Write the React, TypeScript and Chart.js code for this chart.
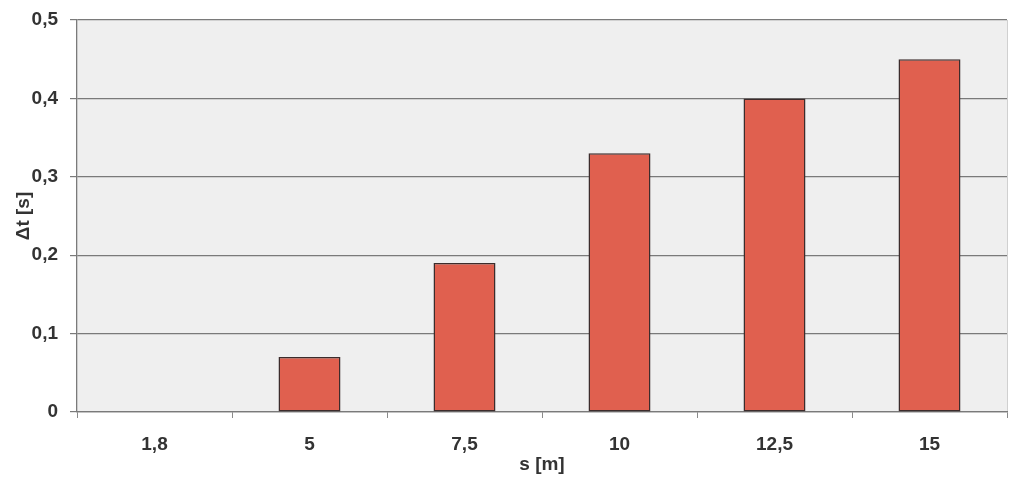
import { useEffect, useRef } from "react";
import { Chart, registerables } from "chart.js";

Chart.register(...registerables);

const distances = ["1,8", "5", "7,5", "10", "12,5", "15"];
const deltaT = [0, 0.07, 0.19, 0.33, 0.4, 0.45];
const yTicks = [0, 0.1, 0.2, 0.3, 0.4, 0.5];

const font = { family: "Liberation Sans, Arial", size: 19, weight: "bold" as const };

const plotBg = {
  id: "plotBg",
  beforeDraw(chart: Chart) {
    const { ctx, chartArea: a } = chart;
    ctx.save();
    ctx.fillStyle = "#efefef";
    ctx.fillRect(a.left, a.top, a.right - a.left, a.bottom - a.top);
    ctx.strokeStyle = "#d0d0d0";
    ctx.lineWidth = 1;
    ctx.beginPath();
    ctx.moveTo(a.right + 0.5, a.top);
    ctx.lineTo(a.right + 0.5, a.bottom);
    ctx.stroke();
    ctx.restore();
  },
};

export default function App() {
  const canvasRef = useRef<HTMLCanvasElement>(null);
  const chartRef = useRef<Chart | null>(null);

  useEffect(() => {
    document.body.style.margin = "0";
    document.body.style.background = "#ffffff";
    if (!canvasRef.current) return;
    chartRef.current?.destroy();
    chartRef.current = new Chart(canvasRef.current, {
      type: "bar",
      data: {
        labels: distances,
        datasets: [
          {
            data: deltaT,
            backgroundColor: "#e0604f",
            borderColor: "#3c2c2c",
            borderWidth: 1.5,
            borderSkipped: false,
            barPercentage: 0.8,
            categoryPercentage: 0.5,
          },
        ],
      },
      options: {
        responsive: false,
        animation: false,
        layout: { padding: { top: 20, right: 17, bottom: 2, left: 12 } },
        plugins: { legend: { display: false }, tooltip: { enabled: false } },
        scales: {
          x: {
            offset: true,
            afterFit: (axis) => {
              axis.height = 64;
            },
            grid: {
              offset: true,
              drawOnChartArea: false,
              color: "#8a8a8a",
              tickLength: 6,
            },
            border: { color: "#7a7a7a", width: 1.3 },
            ticks: { color: "#333", padding: 15, font },
            title: {
              display: true,
              text: "s [m]",
              color: "#333",
              padding: { top: 0, bottom: 0 },
              font,
            },
          },
          y: {
            min: 0,
            max: 0.5,
            afterBuildTicks: (axis) => {
              axis.ticks = yTicks.map((v) => ({ value: v }));
            },
            afterFit: (axis) => {
              axis.width = 65;
              axis.paddingTop = 0;
            },
            grid: { color: "#7a7a7a", lineWidth: 1.2, tickLength: 7 },
            border: { color: "#7a7a7a", width: 1.3 },
            ticks: {
              color: "#333",
              padding: 12,
              callback: (v) => String(v).replace(".", ","),
              font,
            },
            title: {
              display: true,
              text: "Δt [s]",
              color: "#333",
              padding: { top: 0, bottom: 2 },
              font,
            },
          },
        },
      },
      plugins: [plotBg],
    });
    return () => chartRef.current?.destroy();
  }, []);

  return (
    <div style={{ width: 1024, height: 478 }}>
      <canvas ref={canvasRef} width={1024} height={478} />
    </div>
  );
}
